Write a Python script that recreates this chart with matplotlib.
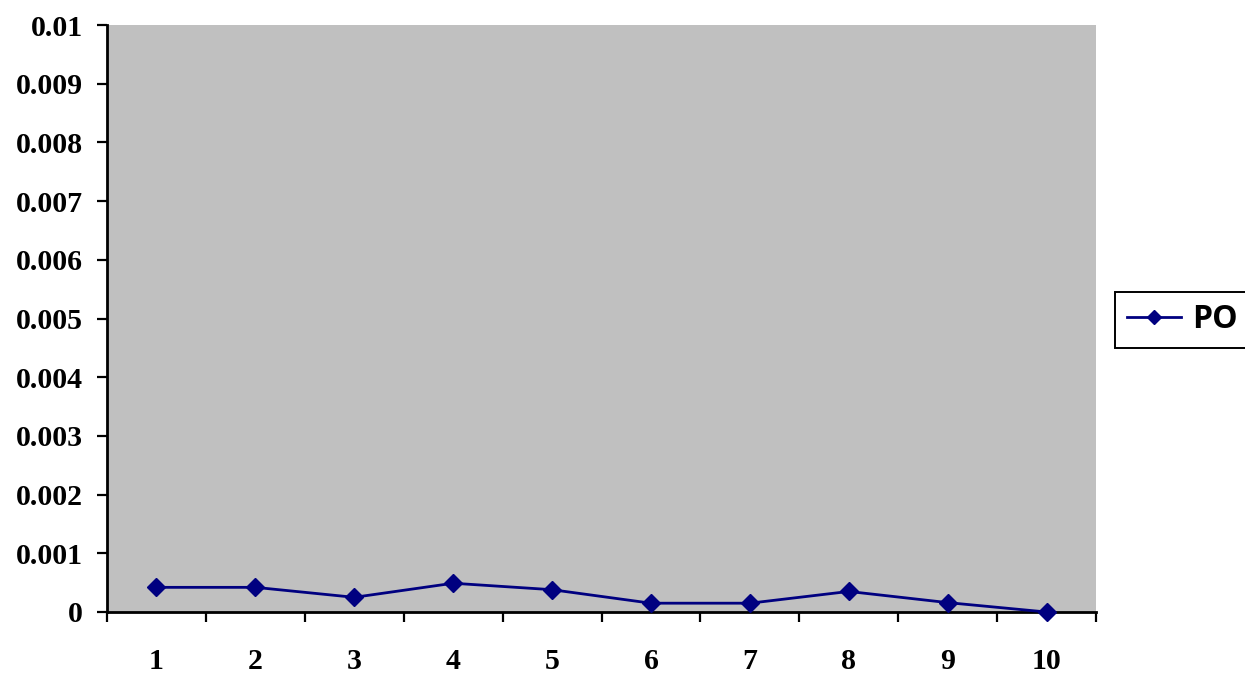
import matplotlib
matplotlib.use("Agg")
import matplotlib.pyplot as plt
from matplotlib.ticker import FixedLocator, NullFormatter, FixedFormatter

categories = ["1", "2", "3", "4", "5", "6", "7", "8", "9", "10"]
po_values = [0.00042, 0.00042, 0.00025, 0.00049, 0.00038,
             0.00015, 0.00015, 0.00035, 0.00016, 0.0]
y_ticks = [0, 0.001, 0.002, 0.003, 0.004, 0.005, 0.006, 0.007, 0.008, 0.009, 0.01]
y_labels = ["0", "0.001", "0.002", "0.003", "0.004", "0.005",
            "0.006", "0.007", "0.008", "0.009", "0.01"]

fig = plt.figure(figsize=(12.45, 6.75), dpi=100)
ax = fig.add_axes([107 / 1245, 63 / 675, 989 / 1245, 587 / 675])
ax.set_facecolor("#C0C0C0")

x = list(range(len(categories)))
line, = ax.plot(x, po_values, color="#000080", linewidth=2.0,
                marker="D", markersize=9, markerfacecolor="#000080",
                markeredgecolor="#000080", label="PO", clip_on=False, zorder=5)

ax.set_xlim(-0.5, len(categories) - 0.5)
ax.set_ylim(0, 0.01)

# category labels sit between the boundary tick marks
ax.xaxis.set_major_locator(FixedLocator([i - 0.5 for i in range(len(categories) + 1)]))
ax.xaxis.set_major_formatter(NullFormatter())
ax.xaxis.set_minor_locator(FixedLocator(x))
ax.xaxis.set_minor_formatter(FixedFormatter(categories))
ax.tick_params(axis="x", which="major", direction="out", length=7.5, width=1.6, color="black")
ax.tick_params(axis="x", which="minor", length=0, pad=26)

ax.set_yticks(y_ticks)
ax.set_yticklabels(y_labels)
ax.tick_params(axis="y", direction="out", length=7.5, width=1.6, color="black", pad=10)

serif = ["Liberation Serif", "DejaVu Serif"]
for lbl in ax.get_yticklabels() + ax.xaxis.get_minorticklabels():
    lbl.set_fontfamily(serif)
    lbl.set_fontweight("bold")
    lbl.set_fontsize(21.5)

for side in ("top", "right"):
    ax.spines[side].set_visible(False)
for side in ("left", "bottom"):
    ax.spines[side].set_linewidth(2)
    ax.spines[side].set_color("black")

leg = fig.legend(handles=[line], labels=["PO"], loc="center left",
                 bbox_to_anchor=(1115 / 1245, 355 / 675),
                 prop={"family": "Open Sans", "weight": "bold", "size": 23},
                 frameon=True, fancybox=False, framealpha=1.0,
                 handlelength=1.7, handletextpad=0.35, borderpad=0.37,
                 borderaxespad=0, markerscale=0.75)
leg.get_frame().set_edgecolor("black")
leg.get_frame().set_linewidth(1.4)

fig.savefig("out.png", dpi=100)
